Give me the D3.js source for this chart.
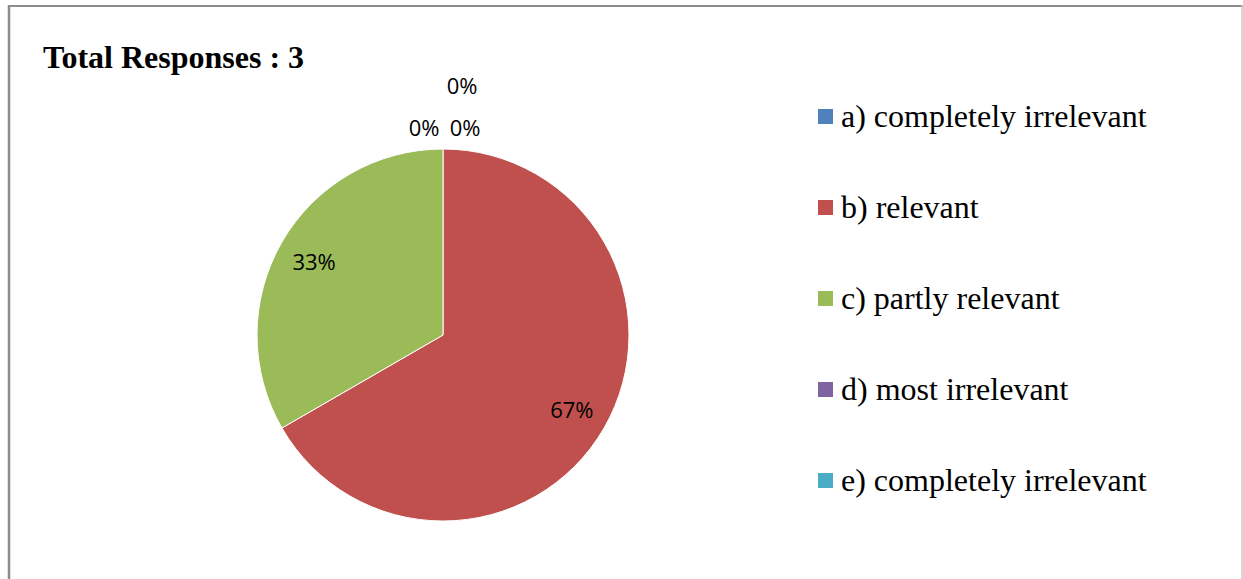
<html>
<head>
<style>
  body { margin: 0; background: #fff; }
</style>
</head>
<body>
<div id="chart-holder"></div>
<script src="https://d3js.org/d3.v7.min.js"></script>
<script>
// data
var categories = ['a) completely irrelevant', 'b) relevant', 'c) partly relevant', 'd) most irrelevant', 'e) completely irrelevant'];
var values = [0, 2, 1, 0, 0];
var percentLabels = ['0%', '67%', '33%', '0%', '0%'];
var colors = ['#4F81BD', '#C0504D', '#9BBB59', '#8064A2', '#4BACC6'];
var titleText = 'Total Responses : 3';

var width = 1243;
var height = 579;

var svg = d3.select('#chart-holder')
            .append('svg')
            .attr('width', width)
            .attr('height', height);

// frame
svg.append('line').attr('x1', 8).attr('x2', 1243).attr('y1', 6).attr('y2', 6)
   .attr('stroke', '#8c8c8c').attr('stroke-width', 2);
svg.append('line').attr('x1', 9).attr('x2', 9).attr('y1', 5).attr('y2', 579)
   .attr('stroke', '#8c8c8c').attr('stroke-width', 2.5);
svg.append('line').attr('x1', 1242).attr('x2', 1242).attr('y1', 5).attr('y2', 579)
   .attr('stroke', '#c8c8c8').attr('stroke-width', 1.5);

// title
svg.append('text')
   .attr('x', 43)
   .attr('y', 68)
   .attr('font-family', '"Liberation Serif", "Times New Roman", serif')
   .attr('font-weight', 'bold')
   .attr('font-size', '32px')
   .attr('fill', '#000')
   .text(titleText);

// pie
var cx = 443, cy = 335, radius = 186;
var g = svg.append('g').attr('transform', 'translate(' + cx + ',' + cy + ')');

var pie = d3.pie().sort(null).value(function(d) { return d; });
var arcs = pie(values);
var arc = d3.arc().innerRadius(0).outerRadius(radius);
var labelArc = d3.arc().innerRadius(radius * 0.8).outerRadius(radius * 0.8);

g.selectAll('.slice')
 .data(arcs)
 .enter()
 .append('path')
 .attr('class', 'slice')
 .attr('d', arc)
 .attr('fill', function(d, i) { return colors[i]; })
 .attr('stroke', '#fff')
 .attr('stroke-width', function(d) { return d.value > 0 ? 1 : 0; });

// zero slices get pushed outside the pie, stacked like the original
var zeroOffsets = {0: [22, -208], 3: [-19, -208], 4: [19, -250]};

g.selectAll('.pct')
 .data(arcs)
 .enter()
 .append('text')
 .attr('class', 'pct')
 .attr('transform', function(d, i) {
     var p = d.value > 0 ? labelArc.centroid(d) : zeroOffsets[i];
     return 'translate(' + p[0] + ',' + p[1] + ')';
 })
 .attr('text-anchor', 'middle')
 .attr('dominant-baseline', 'central')
 .attr('font-family', '"Open Sans", sans-serif')
 .attr('font-size', '22px')
 .attr('fill', '#000')
 .text(function(d, i) { return percentLabels[i]; });

// legend
var legend = svg.append('g').attr('transform', 'translate(818,117)');
var rows = legend.selectAll('g')
                 .data(categories)
                 .enter()
                 .append('g')
                 .attr('transform', function(d, i) { return 'translate(0,' + (i * 91) + ')'; });
rows.append('rect')
    .attr('x', 0)
    .attr('y', -8)
    .attr('width', 15)
    .attr('height', 15)
    .attr('fill', function(d, i) { return colors[i]; });
rows.append('text')
    .attr('x', 23)
    .attr('y', 10)
    .attr('font-family', '"Liberation Serif", "Times New Roman", serif')
    .attr('font-size', '32px')
    .attr('fill', '#000')
    .text(function(d) { return d; });
</script>
</body>
</html>
